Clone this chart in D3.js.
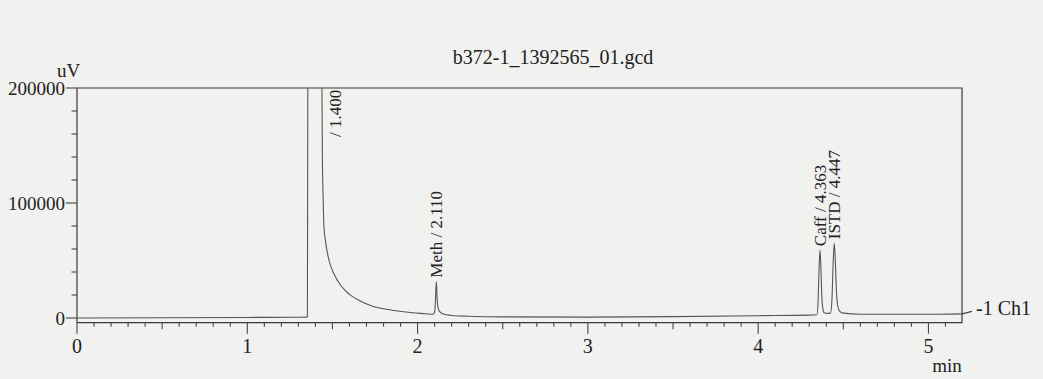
<!doctype html>
<html lang="en">
<head>
<meta charset="UTF-8">
<title>b372-1_1392565_01.gcd</title>
<script src="https://d3js.org/d3.v7.min.js"></script>
<style>
  html, body { margin: 0; padding: 0; background: #f1f1ef; }
  svg { display: block; font-family: 'Liberation Serif', 'DejaVu Serif', serif; }
  text { fill: #222; }
</style>
</head>
<body>
<svg width="1043" height="379"></svg>
<script>
  // chromatogram trace (min, uV)
  const traceTime = [0, 0.5, 1.0, 1.3, 1.35, 1.353, 1.356, 1.4, 1.436, 1.441, 1.446, 1.45,
    1.46, 1.48, 1.51, 1.55, 1.6, 1.66, 1.74, 1.85, 1.97, 2.05, 2.09, 2.1, 2.105, 2.11,
    2.115, 2.12, 2.13, 2.15, 2.2, 2.3, 2.5, 3.0, 3.5, 4.0, 4.3, 4.345, 4.352, 4.358,
    4.363, 4.368, 4.374, 4.38, 4.388, 4.405, 4.425, 4.433, 4.441, 4.447, 4.453, 4.46,
    4.468, 4.478, 4.5, 4.6, 5.0, 5.197];
  const traceSignal = [0, 200, 500, 700, 800, 1500, 250000, 400000, 250000, 140000, 100000, 80000,
    66000, 50000, 38000, 28000, 20500, 15000, 10000, 6800, 4600, 3700, 3200, 5000, 16000, 31600,
    17000, 9000, 5500, 3400, 2200, 1500, 1000, 800, 1200, 2000, 2500, 2800, 15000, 45000,
    59000, 45000, 18000, 8000, 4500, 4000, 4200, 15000, 50000, 65000, 50000, 22000,
    10000, 6000, 4200, 3300, 3200, 3600];

  const peakNames = ['', 'Meth', 'Caff', 'ISTD'];
  const peakTimes = [1.400, 2.110, 4.363, 4.447];
  const peakHeights = [400000, 31600, 59000, 65000];

  const title = 'b372-1_1392565_01.gcd';
  const yMajor = [0, 100000, 200000];
  const xMajor = [0, 1, 2, 3, 4, 5];

  (function () {
    const svg = d3.select('svg');
    const left = 77, right = 962, plotTop = 88;

    const x = d3.scaleLinear().domain([0, 5.197]).range([left, right]);
    const y = d3.scaleLinear().domain([0, 200000]).range([318, plotTop]);
    const bottom = y(0) + 4.7;

    svg.append('defs').append('clipPath').attr('id', 'plot')
      .append('rect').attr('x', left).attr('y', plotTop).attr('width', right - left).attr('height', bottom - plotTop);

    // title
    svg.append('text').attr('x', 553).attr('y', 64).attr('text-anchor', 'middle')
      .style('font-size', '20px').text(title);

    // frame
    svg.append('path')
      .attr('d', `M${left},${bottom}V${plotTop}H${right}V${bottom}H${left}`)
      .attr('stroke', '#3a3a3a').attr('stroke-width', 1.2).attr('fill', 'none');

    // y axis ticks
    svg.append('g').attr('stroke', '#444').attr('stroke-width', 1.1)
      .selectAll('line')
      .data(d3.range(0, 200001, 20000))
      .join('line')
      .attr('x1', d => yMajor.includes(d) ? left - 11 : left - 5.5)
      .attr('x2', left)
      .attr('y1', d => y(d)).attr('y2', d => y(d));
    svg.append('g').selectAll('text')
      .data(yMajor)
      .join('text')
      .attr('x', left - 12).attr('y', d => y(d)).attr('dy', '0.35em')
      .attr('text-anchor', 'end').style('font-size', '19px')
      .text(d => d);
    svg.append('text').attr('x', 57).attr('y', 77).style('font-size', '19px').text('uV');

    // x axis ticks
    const xTicks = d3.range(0, 52).map(i => i / 10);
    svg.append('g').attr('stroke', '#444').attr('stroke-width', 1.1)
      .selectAll('line')
      .data(xTicks)
      .join('line')
      .attr('x1', d => x(d)).attr('x2', d => x(d))
      .attr('y1', bottom)
      .attr('y2', d => {
        const r = Math.round(d * 10);
        if (r % 10 === 0) return bottom + 11;
        if (r % 5 === 0) return bottom + 6.5;
        return bottom + 4;
      });
    svg.append('g').selectAll('text')
      .data(xMajor)
      .join('text')
      .attr('x', d => x(d)).attr('y', 353)
      .attr('text-anchor', 'middle').style('font-size', '20px')
      .text(d => d);
    svg.append('text').attr('x', 947).attr('y', 372).attr('text-anchor', 'middle')
      .style('font-size', '19px').text('min');

    // trace
    const pts = traceTime.map((t, i) => [t, traceSignal[i]]);
    const line = d3.line().x(d => x(d[0])).y(d => y(d[1])).curve(d3.curveMonotoneX);
    svg.append('path')
      .datum(pts)
      .attr('clip-path', 'url(#plot)')
      .attr('fill', 'none')
      .attr('stroke', '#555')
      .attr('stroke-width', 1.1)
      .attr('d', line);

    // channel label at the end of the trace
    const yEnd = y(traceSignal[traceSignal.length - 1]);
    svg.append('line').attr('x1', right).attr('y1', yEnd).attr('x2', right + 10).attr('y2', yEnd - 2.5)
      .attr('stroke', '#444').attr('stroke-width', 1.1);
    svg.append('text').attr('x', 976).attr('y', 315).style('font-size', '20px').text('-1 Ch1');

    // peak labels
    svg.append('g').selectAll('text')
      .data(peakTimes)
      .join('text')
      .attr('transform', (d, i) => {
        const off = peakHeights[i] > 200000;
        const px = x(d) + (off ? 20 : 0);
        const py = off ? y(200000) + 49 : y(peakHeights[i]) - 4;
        return `translate(${px},${py}) rotate(-90)`;
      })
      .attr('dy', '0.35em')
      .attr('text-anchor', 'start')
      .style('font-size', '17px')
      .text((d, i) => (peakNames[i] ? peakNames[i] + ' ' : '') + '/ ' + d.toFixed(3));
  })();
</script>
</body>
</html>
